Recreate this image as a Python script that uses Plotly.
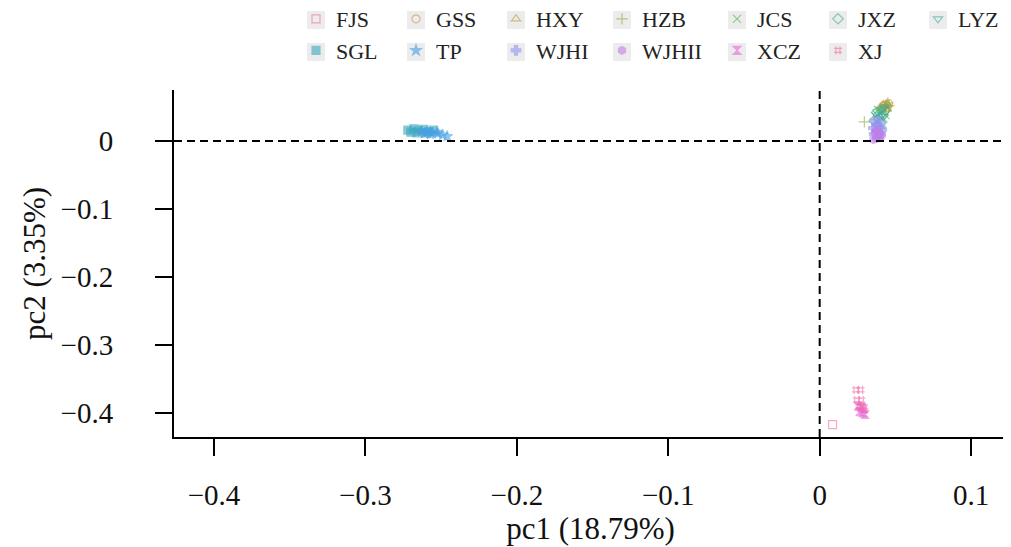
import plotly.graph_objects as go

# ---- data ----
groups = ["FJS", "GSS", "HXY", "HZB", "JCS", "JXZ", "LYZ",
          "SGL", "TP", "WJHI", "WJHII", "XCZ", "XJ"]

FJS_x = [0.0085]
FJS_y = [-0.417]
GSS_x = [0.0415, 0.0440, 0.0455, 0.0430, 0.0448, 0.0425]
GSS_y = [0.048, 0.053, 0.055, 0.044, 0.050, 0.052]
HXY_x = [0.0410, 0.0435, 0.0450, 0.0420, 0.0445, 0.0400]
HXY_y = [0.046, 0.051, 0.053, 0.054, 0.047, 0.050]
HZB_x = [0.0295, 0.0450, 0.0440, 0.0458]
HZB_y = [0.028, 0.056, 0.053, 0.052]
JCS_x = [0.037, 0.040, 0.042, 0.0385, 0.0435, 0.041]
JCS_y = [0.036, 0.040, 0.044, 0.046, 0.038, 0.033]
JXZ_x = [0.036, 0.039, 0.042, 0.0375, 0.041, 0.0435]
JXZ_y = [0.030, 0.034, 0.038, 0.042, 0.028, 0.045]
LYZ_x = [0.038, 0.041, 0.043, 0.0395, 0.042]
LYZ_y = [0.043, 0.047, 0.050, 0.039, 0.036]
SGL_x = [-0.272, -0.268, -0.265, -0.262, -0.258, -0.255, -0.266, -0.260, -0.270]
SGL_y = [0.016, 0.018, 0.015, 0.017, 0.014, 0.016, 0.012, 0.012, 0.013]
TP_x = [-0.263, -0.259, -0.256, -0.252, -0.249, -0.246, -0.253, -0.257, -0.261]
TP_y = [0.014, 0.015, 0.012, 0.011, 0.009, 0.007, 0.013, 0.010, 0.011]
WJHI_x = [0.036, 0.038, 0.040, 0.0375, 0.0395, 0.041, 0.0355, 0.0385, 0.0365, 0.040]
WJHI_y = [0.010, 0.015, 0.020, 0.024, 0.028, 0.017, 0.019, 0.006, 0.030, 0.011]
WJHII_x = [0.0355, 0.0375, 0.0385, 0.0400, 0.0365, 0.0390, 0.0410, 0.0370]
WJHII_y = [0.002, 0.004, 0.009, 0.005, 0.012, 0.014, 0.009, 0.017]
XCZ_x = [0.0255, 0.0275, 0.0290, 0.0265, 0.0285, 0.0300]
XCZ_y = [-0.390, -0.392, -0.394, -0.398, -0.400, -0.402]
XJ_x = [0.0240, 0.0270, 0.0245, 0.0275, 0.0260, 0.0280, 0.0295]
XJ_y = [-0.366, -0.366, -0.381, -0.381, -0.391, -0.390, -0.396]

xs = [FJS_x, GSS_x, HXY_x, HZB_x, JCS_x, JXZ_x, LYZ_x,
      SGL_x, TP_x, WJHI_x, WJHII_x, XCZ_x, XJ_x]
ys = [FJS_y, GSS_y, HXY_y, HZB_y, JCS_y, JXZ_y, LYZ_y,
      SGL_y, TP_y, WJHI_y, WJHII_y, XCZ_y, XJ_y]

x_ticks = [-0.4, -0.3, -0.2, -0.1, 0, 0.1]
y_ticks = [0, -0.1, -0.2, -0.3, -0.4]
x_title = "pc1 (18.79%)"
y_title = "pc2 (3.35%)"

# ---- styles ----
colors = ["#f0748a", "#d8913c", "#b59e3a", "#93a83a", "#4fb04a", "#3cae8a",
          "#3aaca2", "#3aa8bd", "#47a0e6", "#8f95ee", "#c07fe8", "#e86ad6", "#f26aa8"]
symbols = ["square-open", "circle-open", "triangle-up-open", "cross-thin-open",
           "x-thin-open", "diamond-open", "triangle-down-open", "square-x",
           "star", "cross", "hexagon", "hourglass", "hash-open"]

# page body has an 8px margin: the figure is laid out in its own coordinates
OFF = 8
W, H = 1011 - OFF, 547 - OFF
L, T = 174 - OFF, 90 - OFF
R = W - (1007 - OFF)
B = H - (437 - OFF)
pw, ph = W - L - R, H - T - B

# legend columns (page pixel x of the symbol), rows (page pixel y)
col_px = [316, 416, 516, 622, 737, 838, 938]
row_py = [20, 52]

fig = go.Figure()
for i, g in enumerate(groups):
    col = i % 7
    lname = "legend" if col == 0 else f"legend{col + 1}"
    fig.add_trace(go.Scatter(
        x=xs[i], y=ys[i], mode="markers", name=g,
        legend=lname,
        marker=dict(symbol=symbols[i], size=8, color=colors[i], opacity=0.6,
                    line=dict(width=1.2, color=colors[i])),
    ))

font_family = "Liberation Serif"
legends = {}
shapes = []
for c, px in enumerate(col_px):
    key = "legend" if c == 0 else f"legend{c + 1}"
    legends[key] = dict(
        x=(px - OFF - 20 - L) / pw, xanchor="left",
        y=(H - B + 10) / ph, yanchor="top",
        orientation="v", bgcolor="rgba(0,0,0,0)",
        font=dict(family=font_family, size=22, color="#222"),
        itemsizing="trace", tracegroupgap=0,
    )
for c, px in enumerate(col_px):
    for r, py in enumerate(row_py):
        if c == 6 and r == 1:
            continue
        cx, cy = px - OFF, py - OFF
        shapes.append(dict(type="rect", xref="paper", yref="paper",
                           x0=(cx - 9 - L) / pw, x1=(cx + 9 - L) / pw,
                           y0=(H - B - cy - 9) / ph, y1=(H - B - cy + 9) / ph,
                           fillcolor="#ececec", line=dict(width=0), layer="below"))

# reference lines at 0
shapes.append(dict(type="line", xref="x", yref="paper", x0=0, x1=0, y0=0, y1=1,
                   line=dict(color="black", width=2, dash="8px,5px")))
shapes.append(dict(type="line", xref="paper", yref="y", x0=0, x1=1, y0=0, y1=0,
                   line=dict(color="black", width=2, dash="8px,5px")))

fig.update_layout(
    width=W, height=H,
    margin=dict(l=L, r=R, t=T, b=B, autoexpand=False),
    paper_bgcolor="white", plot_bgcolor="white",
    font=dict(family=font_family, size=28, color="#111"),
    shapes=shapes,
    showlegend=True,
    **legends,
)
fig.update_xaxes(
    range=[-0.4264, 0.1237], tickvals=x_ticks, showgrid=False, zeroline=False,
    showline=True, linecolor="black", linewidth=2, mirror=False,
    ticks="outside", ticklen=17, tickwidth=2, tickcolor="black",
    ticklabelstandoff=14,
    tickfont=dict(family=font_family, size=29, color="#111"),
    title=dict(text=x_title, font=dict(family=font_family, size=31, color="#111"), standoff=2),
)
fig.update_yaxes(
    range=[-0.4353, 0.075], tickvals=y_ticks, showgrid=False, zeroline=False,
    showline=True, linecolor="black", linewidth=2, mirror=False,
    ticks="outside", ticklen=17, tickwidth=2, tickcolor="black",
    ticklabelstandoff=36,
    tickfont=dict(family=font_family, size=29, color="#111"),
    title=dict(text=y_title, font=dict(family=font_family, size=31, color="#111"), standoff=6),
)

fig.write_html("out.html")
